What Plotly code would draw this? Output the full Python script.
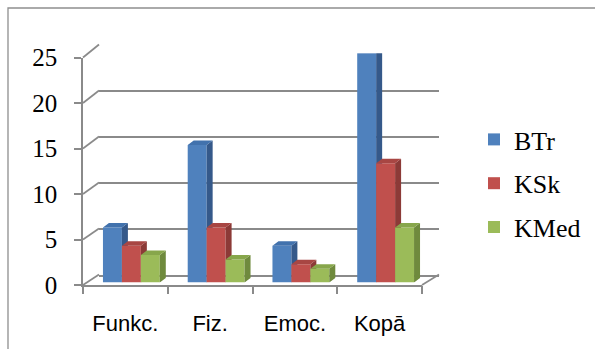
import plotly.graph_objects as go

# ---- data ----
categories = ["Funkc.", "Fiz.", "Emoc.", "Kopā"]
series_names = ["BTr", "KSk", "KMed"]
btr = [6, 15, 4, 25]
ksk = [4, 6, 2, 13]
kmed = [3, 2.5, 1.5, 6]
y_ticks = [0, 5, 10, 15, 20, 25]

# ---- styling ----
front_colors = ["#4F81BD", "#C0504D", "#9BBB59"]
side_colors = ["#35598A", "#8C3A37", "#6F8A3D"]
top_colors = ["#4272AD", "#A84643", "#87A64B"]
grid_color = "#8A8A8A"

W, H = 595, 349
YMAX = 25


def fx(p):
    return p / W


def fy(p):
    return (H - p) / H


# pixel geometry of the pseudo-3D box
FX0, FX1, FY0, FY25 = 83, 422, 285, 57.5      # front plane (axes)
BX0, BX1, BY0, BY25 = 99, 439, 274.5, 44.5    # back wall (gridlines)
RX0, RX1, RY0, RY25 = 89, 428, 282.5, 53.3    # plane the bars stand in

n_cat = len(categories)
bar_w = 0.2235
dx = 6.0 / ((RX1 - RX0) / n_cat)
dy = 4.5 / ((RY0 - RY25) / YMAX)

fig = go.Figure()

all_series = [btr, ksk, kmed]
for i, (name, vals) in enumerate(zip(series_names, all_series)):
    k = 3 + i
    xa, ya = f"x{k}", f"y{k}"
    offset = -1.5 * bar_w + i * bar_w
    fig.add_trace(go.Bar(
        x=list(range(n_cat)), y=vals, name=name,
        width=bar_w, offset=offset,
        marker=dict(color=front_colors[i], line=dict(width=0)),
        xaxis=xa, yaxis=ya, legendgroup=name, hoverinfo="skip",
    ))
    side_x, side_y, top_x, top_y = [], [], [], []
    for c, v in enumerate(vals):
        x0 = c + offset
        x1 = x0 + bar_w
        side_x += [x1, x1 + dx, x1 + dx, x1, x1, None]
        side_y += [0, dy, v + dy, v, 0, None]
        top_x += [x0, x0 + dx, x1 + dx, x1, x0, None]
        top_y += [v, v + dy, v + dy, v, v, None]
    for fxs, fys, col in ((side_x, side_y, side_colors[i]),
                          (top_x, top_y, top_colors[i])):
        fig.add_trace(go.Scatter(
            x=fxs, y=fys, mode="lines", fill="toself", fillcolor=col,
            line=dict(width=0, color=col), xaxis=xa, yaxis=ya,
            showlegend=False, hoverinfo="skip", legendgroup=name,
        ))

# empty traces so the axis-only subplots get drawn
for xa, ya in (("x6", "y"), ("x2", "y2"), ("x", "y")):
    fig.add_trace(go.Scatter(x=[None], y=[None], xaxis=xa, yaxis=ya,
                             showlegend=False, hoverinfo="skip"))

xr = [-0.5, n_cat - 0.5]
hidden = dict(visible=False, fixedrange=True, automargin=False)

layout = dict(
    width=W, height=H, autosize=False,
    margin=dict(l=0, r=0, t=0, b=0, pad=0, autoexpand=False),
    paper_bgcolor="white", plot_bgcolor="rgba(0,0,0,0)",
    showlegend=True,
    barmode="overlay",
    legend=dict(
        x=fx(474), y=fy(116), xanchor="left", yanchor="top",
        font=dict(family="Liberation Serif", size=26, color="black"),
        traceorder="grouped", tracegroupgap=7,
        bgcolor="rgba(0,0,0,0)",
    ),
    # front axes: value labels and category labels
    xaxis=dict(
        domain=[fx(FX0), fx(FX1)], range=xr, anchor="y",
        tickmode="array", tickvals=list(range(n_cat)), ticktext=categories,
        ticks="", showgrid=False, zeroline=False,
        showline=True, linecolor=grid_color, linewidth=1.7,
        tickfont=dict(family="Liberation Sans", size=22, color="black"),
        ticklabelstandoff=18, fixedrange=True, automargin=False,
    ),
    yaxis=dict(
        domain=[fy(FY0), fy(FY25)], range=[0, YMAX], anchor="x",
        tickmode="array", tickvals=y_ticks,
        ticks="outside", ticklen=7, tickwidth=1.7, tickcolor=grid_color,
        showgrid=False, zeroline=False,
        showline=True, linecolor=grid_color, linewidth=1.7,
        tickfont=dict(family="Liberation Serif", size=25, color="black"),
        ticklabelstandoff=12, fixedrange=True, automargin=False,
    ),
    # category boundary ticks
    xaxis6=dict(
        overlaying="x", anchor="y", range=xr,
        tickmode="array", tickvals=[c - 0.5 for c in range(n_cat + 1)],
        showticklabels=False, ticks="outside", ticklen=8, tickwidth=1.7,
        tickcolor=grid_color, showgrid=False, zeroline=False,
        showline=False, fixedrange=True, automargin=False,
    ),
    # back wall with horizontal gridlines
    xaxis2=dict(
        domain=[fx(BX0), fx(BX1)], range=xr, anchor="y2",
        showticklabels=False, ticks="", showgrid=False, zeroline=False,
        showline=True, linecolor=grid_color, linewidth=1.7, fixedrange=True,
        automargin=False,
    ),
    yaxis2=dict(
        domain=[fy(BY0), fy(BY25)], range=[0, YMAX], anchor="x2",
        tickmode="array", tickvals=y_ticks,
        showticklabels=False, ticks="", showgrid=True,
        gridcolor=grid_color, gridwidth=1.7, zeroline=False,
        showline=False, fixedrange=True, automargin=False,
    ),
    # bar planes (one per series so later series sit in front)
    xaxis3=dict(domain=[fx(RX0), fx(RX1)], range=xr, anchor="y3", **hidden),
    yaxis3=dict(domain=[fy(RY0), fy(RY25)], range=[0, YMAX], anchor="x3",
                **hidden),
    xaxis4=dict(overlaying="x3", range=xr, anchor="y4", **hidden),
    yaxis4=dict(overlaying="y3", range=[0, YMAX], anchor="x4", **hidden),
    xaxis5=dict(overlaying="x3", range=xr, anchor="y5", **hidden),
    yaxis5=dict(overlaying="y3", range=[0, YMAX], anchor="x5", **hidden),
)

shapes = []
# side-wall diagonals joining front axis to back wall
for v in y_ticks:
    yf = FY0 + (FY25 - FY0) * v / YMAX
    yb = BY0 + (BY25 - BY0) * v / YMAX
    shapes.append(dict(type="line", xref="paper", yref="paper",
                       x0=fx(FX0), y0=fy(yf), x1=fx(BX0), y1=fy(yb),
                       line=dict(color=grid_color, width=1.7), layer="below"))
# right edge of the floor
shapes.append(dict(type="line", xref="paper", yref="paper",
                   x0=fx(FX1), y0=fy(FY0), x1=fx(BX1), y1=fy(BY0),
                   line=dict(color=grid_color, width=1.7), layer="below"))
# chart area border
shapes.append(dict(type="rect", xref="paper", yref="paper",
                   x0=fx(8), y0=fy(8), x1=fx(W + 10), y1=fy(H + 10),
                   line=dict(color="#8F8F8F", width=1.3),
                   fillcolor="rgba(0,0,0,0)", layer="below"))
layout["shapes"] = shapes

fig.update_layout(**layout)
fig.write_html("out.html")
